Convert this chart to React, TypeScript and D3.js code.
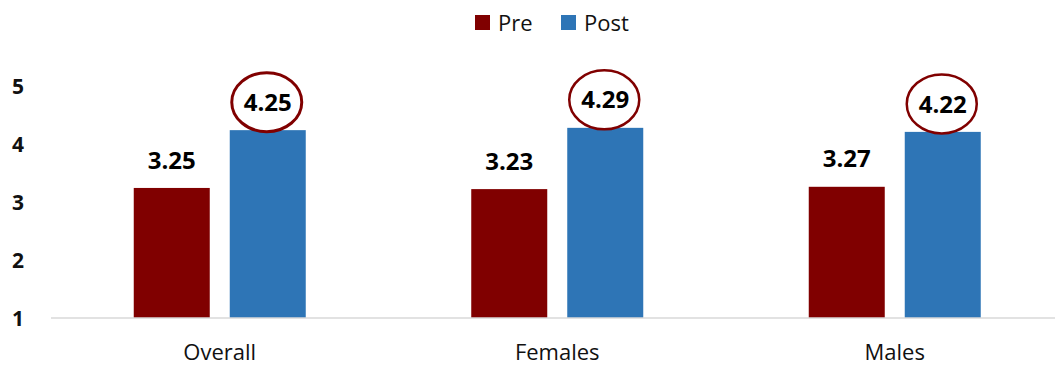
import * as React from "react";
import * as d3 from "d3";

const categories = ["Overall", "Females", "Males"];
const seriesNames = ["Pre", "Post"];
const preValues = [3.25, 3.23, 3.27];
const postValues = [4.25, 4.29, 4.22];
const yTicks = [1, 2, 3, 4, 5];

const colors: Record<string, string> = { Pre: "#800000", Post: "#2E75B6" };
const font = "'Open Sans', 'Liberation Sans', sans-serif";

const width = 1055;
const height = 367;

const App = () => {
  const x0 = d3.scaleBand().domain(categories).range([51, 1063.5]).padding(0);
  const groupW = 172;
  const x1 = d3
    .scaleBand()
    .domain(seriesNames)
    .range([0, groupW])
    .paddingInner(20 / 96)
    .paddingOuter(0);
  const y = d3.scaleLinear().domain([1, 5]).range([318, 86.8]);

  const valuesFor = (s: string) => (s === "Pre" ? preValues : postValues);

  return (
    <svg
      width={width}
      height={height}
      style={{ position: "absolute", left: 0, top: 0, background: "#fff" }}
    >
      {/* legend */}
      {seriesNames.map((s, i) => {
        const lx = i === 0 ? 475 : 561;
        return (
          <g key={s}>
            <rect x={lx} y={15} width={15} height={15} fill={colors[s]} />
            <text x={lx + 23} y={31} fontFamily={font} fontSize={22} fill="#111">
              {s}
            </text>
          </g>
        );
      })}

      {/* y labels */}
      {yTicks.map((t) => (
        <text
          key={t}
          x={24}
          y={y(t)}
          dy="0.36em"
          textAnchor="end"
          fontFamily={font}
          fontWeight="bold"
          fontSize={21}
          fill="#111"
        >
          {t}
        </text>
      ))}

      {/* bars */}
      {categories.map((c, ci) => {
        const gx = (x0(c) || 0) + x0.bandwidth() / 2 - groupW / 2;
        return (
          <g key={c} transform={`translate(${gx},0)`}>
            {seriesNames.map((s) => {
              const v = valuesFor(s)[ci];
              const bx = x1(s) || 0;
              const cx = bx + x1.bandwidth() / 2;
              const ly = y(v) - 28;
              return (
                <g key={s}>
                  <rect
                    x={bx}
                    y={y(v)}
                    width={x1.bandwidth()}
                    height={y(1) - y(v)}
                    fill={colors[s]}
                  />
                  {s === "Post" && (
                    <ellipse
                      cx={cx - 1}
                      cy={ly}
                      rx={35}
                      ry={29.5}
                      fill="#fff"
                      stroke="#800000"
                      strokeWidth={ci === 0 ? 3 : 2.5}
                    />
                  )}
                  <text
                    x={cx}
                    y={ly}
                    dy="0.36em"
                    textAnchor="middle"
                    fontFamily={font}
                    fontWeight="bold"
                    fontSize={24}
                    fill="#000"
                  >
                    {v.toFixed(2)}
                  </text>
                </g>
              );
            })}
          </g>
        );
      })}

      {/* baseline */}
      <line x1={51} x2={width} y1={y(1)} y2={y(1)} stroke="#d9d9d9" strokeWidth={1.5} />

      {/* category labels */}
      {categories.map((c) => (
        <text
          key={c}
          x={(x0(c) || 0) + x0.bandwidth() / 2}
          y={360}
          textAnchor="middle"
          fontFamily={font}
          fontSize={22}
          fill="#111"
        >
          {c}
        </text>
      ))}
    </svg>
  );
};

export default App;
